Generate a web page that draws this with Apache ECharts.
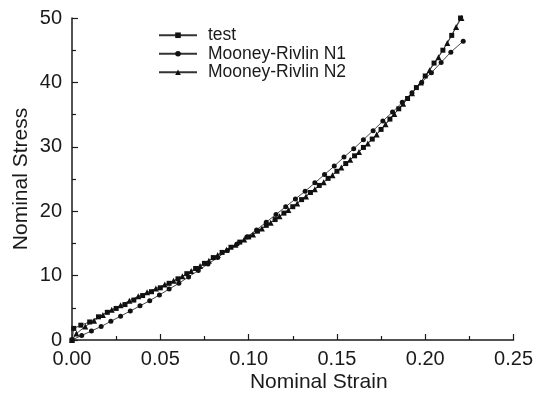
<!DOCTYPE html>
<html>
<head>
<meta charset="utf-8">
<script src="https://cdn.jsdelivr.net/npm/echarts@6/dist/echarts.min.js"></script>
<style>
  html, body { margin: 0; padding: 0; background: #fff; }
  #main { width: 536px; height: 399px; }
</style>
</head>
<body>
<div id="main"></div>
<script>
// nominal strain / nominal stress
const testStrain = [0, 0.001, 0.005, 0.01, 0.015, 0.02, 0.025, 0.03, 0.035, 0.04, 0.045,
  0.05, 0.055, 0.06, 0.065, 0.07, 0.075, 0.08, 0.085, 0.09, 0.095,
  0.1, 0.105, 0.11, 0.115, 0.12, 0.125, 0.13, 0.135, 0.14, 0.145,
  0.15, 0.155, 0.16, 0.165, 0.17, 0.175, 0.18, 0.185, 0.19, 0.195,
  0.2, 0.205, 0.21, 0.215, 0.22];
const testStress = [0, 1.8, 2.3, 2.8, 3.6, 4.3, 4.9, 5.5, 6.2, 6.9, 7.5,
  8.1, 8.8, 9.5, 10.3, 11.1, 11.9, 12.8, 13.6, 14.4, 15.2,
  16.0, 16.9, 17.8, 18.7, 19.7, 20.7, 21.8, 22.9, 24.0, 25.1,
  26.2, 27.4, 28.6, 29.9, 31.2, 32.7, 34.3, 35.9, 37.5, 39.2,
  41.0, 43.0, 45.0, 47.3, 50.0];

const n1Strain = [0, 0.0055, 0.011, 0.0165, 0.022, 0.0275, 0.033, 0.0385, 0.044, 0.0495,
  0.055, 0.0605, 0.066, 0.0715, 0.077, 0.0825, 0.088, 0.0935, 0.099, 0.1045,
  0.11, 0.1155, 0.121, 0.1265, 0.132, 0.1375, 0.143, 0.1485, 0.154, 0.1595,
  0.165, 0.1705, 0.176, 0.1815, 0.187, 0.1925, 0.198, 0.2035, 0.209, 0.2145, 0.2215];
const n1Stress = [0, 0.7, 1.4, 2.1, 2.9, 3.7, 4.5, 5.3, 6.1, 7.0,
  7.9, 8.8, 9.8, 10.8, 11.8, 12.8, 13.9, 14.9, 16.0, 17.1,
  18.3, 19.5, 20.7, 21.9, 23.1, 24.4, 25.7, 27.0, 28.4, 29.7,
  31.1, 32.5, 34.0, 35.4, 36.9, 38.4, 40.0, 41.5, 43.1, 44.7, 46.4];

const n2Strain = [0, 0.0025, 0.0075, 0.0125, 0.0175, 0.0225, 0.0275, 0.0325, 0.0375, 0.0425, 0.0475,
  0.0525, 0.0575, 0.0625, 0.0675, 0.0725, 0.0775, 0.0825, 0.0875, 0.0925, 0.0975,
  0.1025, 0.1075, 0.1125, 0.1175, 0.1225, 0.1275, 0.1325, 0.1375, 0.1425, 0.1475,
  0.1525, 0.1575, 0.1625, 0.1675, 0.1725, 0.1775, 0.1825, 0.1875, 0.1925, 0.1975,
  0.2025, 0.2075, 0.2125, 0.2175, 0.2205];
const n2Stress = [0, 1.0, 2.1, 3.0, 3.9, 4.7, 5.4, 6.1, 6.8, 7.4, 8.0,
  8.6, 9.2, 9.9, 10.7, 11.5, 12.3, 13.2, 14.0, 14.8, 15.6,
  16.4, 17.3, 18.2, 19.2, 20.2, 21.2, 22.3, 23.4, 24.5, 25.6,
  26.8, 28.0, 29.2, 30.5, 31.9, 33.5, 35.1, 36.7, 38.3, 40.0,
  41.9, 43.9, 46.1, 48.6, 50.0];

const seriesNames = ['test', 'Mooney-Rivlin N1', 'Mooney-Rivlin N2'];

function zip(xs, ys) {
  return xs.map(function (x, i) { return [x, ys[i]]; });
}

const font = 'Liberation Sans, Arial, Helvetica, sans-serif';
const ink = '#1a1a1a';

function lineSeries(name, data, symbol, size) {
  return {
    name: name,
    type: 'line',
    data: data,
    symbol: symbol,
    symbolSize: size,
    showAllSymbol: true,
    animation: false,
    lineStyle: { color: '#333', width: 0.9 },
    itemStyle: { color: '#111', borderWidth: 0 }
  };
}

const myChart = echarts.init(document.getElementById('main'), null, { renderer: 'canvas' });

const option = {
  backgroundColor: '#fff',
  animation: false,
  grid: { left: 72, right: 21, top: 18, bottom: 59 },
  legend: {
    orient: 'vertical',
    left: 158,
    top: 26,
    padding: 0,
    itemWidth: 38,
    itemHeight: 7,
    itemGap: 0,
    textStyle: {
      fontFamily: font, fontSize: 17.5, color: ink,
      lineHeight: 18.5, padding: [0, 0, 0, 6]
    },
    data: seriesNames
  },
  xAxis: {
    type: 'value',
    min: 0,
    max: 0.25,
    interval: 0.05,
    name: 'Nominal Strain',
    nameLocation: 'middle',
    nameGap: 32,
    nameMoveOverlap: false,
    nameTextStyle: { fontFamily: font, fontSize: 21, color: ink, padding: [0, 0, 0, 52] },
    axisLine: { lineStyle: { color: ink, width: 1.5 } },
    axisTick: { inside: true, length: 6, lineStyle: { color: ink, width: 1.2 } },
    minorTick: { show: true, splitNumber: 2, length: 4, lineStyle: { color: ink, width: 1.2 } },
    splitLine: { show: false },
    axisLabel: {
      fontFamily: font, fontSize: 20, color: ink, margin: 9,
      formatter: function (v) { return v.toFixed(2); }
    }
  },
  yAxis: {
    type: 'value',
    min: 0,
    max: 50,
    interval: 10,
    name: 'Nominal Stress',
    nameLocation: 'middle',
    nameGap: 40,
    nameMoveOverlap: false,
    nameTextStyle: { fontFamily: font, fontSize: 21, color: ink },
    axisLine: { show: true, lineStyle: { color: ink, width: 1.5 } },
    axisTick: { show: true, inside: true, length: 6, lineStyle: { color: ink, width: 1.2 } },
    minorTick: { show: true, splitNumber: 2, length: 4, lineStyle: { color: ink, width: 1.2 } },
    splitLine: { show: false },
    axisLabel: { fontFamily: font, fontSize: 20, color: ink, margin: 10 }
  },
  series: [
    lineSeries(seriesNames[0], zip(testStrain, testStress), 'rect', 5),
    lineSeries(seriesNames[1], zip(n1Strain, n1Stress), 'circle', 5),
    lineSeries(seriesNames[2], zip(n2Strain, n2Stress), 'triangle', 6)
  ]
};

myChart.setOption(option);
</script>
</body>
</html>
